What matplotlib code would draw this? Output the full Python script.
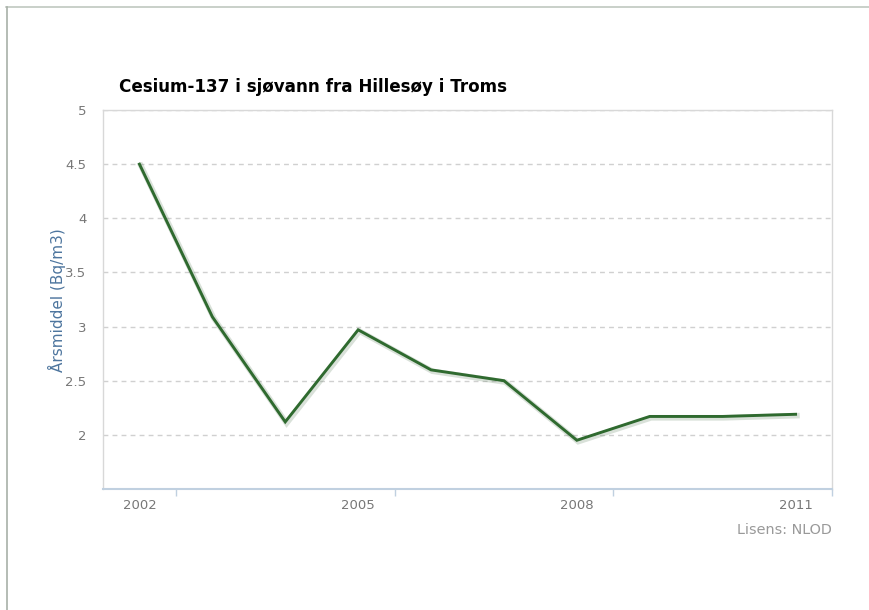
import matplotlib
matplotlib.use("Agg")
import matplotlib.pyplot as plt
import matplotlib.patheffects as pe
from matplotlib.ticker import FixedLocator

# Annual mean Cs-137 concentration in seawater, Hillesøy (Troms)
years = [2002, 2003, 2004, 2005, 2006, 2007, 2008, 2009, 2010, 2011]
values = [4.50, 3.09, 2.12, 2.97, 2.60, 2.50, 1.95, 2.17, 2.17, 2.19]
year_labels = [2002, 2005, 2008, 2011]
y_ticks = [2, 2.5, 3, 3.5, 4, 4.5, 5]

title = "Cesium-137 i sjøvann fra Hillesøy i Troms"
y_title = "Årsmiddel (Bq/m3)"
credit = "Lisens: NLOD"

W, H = 869, 610
fig = plt.figure(figsize=(W / 100, H / 100), dpi=100)
plt.rcParams["font.family"] = ["DejaVu Sans"]

ax = fig.add_axes([103 / W, 1 - 489 / H, (832 - 103) / W, (489 - 110) / H])

line, = ax.plot(years, values, color="#2f6a2f", lw=2.1, solid_joinstyle="miter",
                zorder=3)
line.set_path_effects([pe.SimpleLineShadow(offset=(1, -1), shadow_color="#6a8a6a",
                                           alpha=0.25, linewidth=4),
                       pe.Normal()])

ax.set_xlim(2001.5, 2011.5)
ax.set_ylim(1.5, 5)

ax.set_yticks(y_ticks)
ax.set_yticklabels([f"{t:g}" for t in y_ticks])
ax.set_xticks(year_labels)
ax.xaxis.set_minor_locator(FixedLocator([2002.5, 2005.5, 2008.5, 2011.5]))

ax.tick_params(axis="y", length=0, labelsize=9.5, labelcolor="#777777", pad=12)
ax.tick_params(axis="x", which="major", length=0, labelsize=9.5,
               labelcolor="#777777", pad=7)
ax.tick_params(axis="x", which="minor", length=5, width=1, color="#c0d0e0")

ax.grid(axis="y", color="#d0d0d0", lw=1, ls=(0, (3.5, 3)))
ax.set_axisbelow(True)

for s in ("left", "right", "top"):
    ax.spines[s].set_color("#d8d8d8")
    ax.spines[s].set_linewidth(1)
ax.spines["bottom"].set_color("#c0d0e0")
ax.spines["bottom"].set_linewidth(1.5)

fig.text(57 / W, 1 - 300 / H, y_title, rotation=90, ha="center", va="center",
         color="#4d759e", fontsize=11)
fig.text(119 / W, 1 - 92 / H, title, ha="left", va="baseline",
         fontsize=12.1, fontweight="bold", color="#000000")
fig.text(832 / W, 1 - 534 / H, credit, ha="right", va="baseline",
         fontsize=10.4, color="#999999")

# outer frame (top and left edge)
fig.add_artist(plt.Line2D([6 / W, 1], [1 - 7 / H, 1 - 7 / H], color="#c0c8c0",
                          lw=1.2, transform=fig.transFigure))
fig.add_artist(plt.Line2D([7 / W, 7 / W], [0, 1 - 7 / H], color="#a8b0a8",
                          lw=1.2, transform=fig.transFigure))

fig.savefig("out.png", dpi=100)
